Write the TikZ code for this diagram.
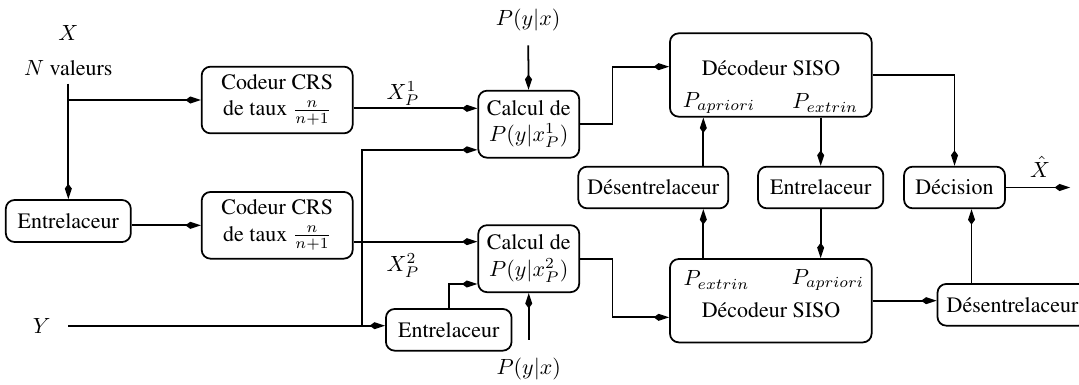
\documentclass[tikz,border=0pt]{standalone}
\usepackage[T1]{fontenc}
\usepackage{times}
\usepackage{amsmath}
\usetikzlibrary{arrows.meta, positioning}

\begin{document}
\begin{tikzpicture}[
    block/.style={rectangle, rounded corners=4pt, draw=black, thick, align=center, inner sep=0pt},
    arrow/.style={thick,-{Kite[length=7pt,width=3.2pt,inset=2.2pt]}}
]
\useasboundingbox (0,0) rectangle (17.264,-6.144);

% entrees
\node (xlab) at (1.093,-0.53) {$X$};
\node (nval) at (1.093,-1.09) {$N$ valeurs};
\node (ylab) at (0.667,-5.211) {$Y$};
\coordinate (yin) at (1.09,-5.211);
\coordinate (jy) at (5.787,-5.211);

% codage
\node (entrel1) [block, minimum width=2cm, minimum height=0.672cm] at (1.093,-3.536) {Entrelaceur};
\node (codeur1) [block, minimum width=2.416cm, minimum height=1.067cm] at (4.435,-1.6) {Codeur CRS\\de taux $\frac{n}{n+1}$};
\node (codeur2) [block, minimum width=2.416cm, minimum height=1.067cm] at (4.435,-3.605) {Codeur CRS\\de taux $\frac{n}{n+1}$};
\node (entrel2) [block, minimum width=2.01cm, minimum height=0.667cm] at (7.18,-5.277) {Entrelaceur};

% canal
\node (ptop) at (8.45,-0.32) {$P(y|x)$};
\node (pbot) at (8.46,-5.91) {$P(y|x)$};
\node (calcul1) [block, minimum width=1.616cm, minimum height=1.072cm] at (8.46,-1.987) {Calcul de\\$P(y|x_P^1)$};
\node (calcul2) [block, minimum width=1.616cm, minimum height=1.072cm] at (8.46,-4.139) {Calcul de\\$P(y|x_P^2)$};

% decodage
\node (dec1) [block, minimum width=3.227cm, minimum height=1.334cm] at (12.333,-1.2) {};
\node at (12.336,-1.093) {D\'ecodeur SISO};
\node (papr1) at (11.504,-1.648) {$P_{apriori}$};
\node (pext1) at (13.205,-1.648) {$P_{extrin}$};
\node (dec2) [block, minimum width=3.227cm, minimum height=1.334cm] at (12.333,-4.811) {};
\node at (12.336,-4.96) {D\'ecodeur SISO};
\node (pext2) at (11.464,-4.48) {$P_{extrin}$};
\node (papr2) at (13.248,-4.48) {$P_{apriori}$};
\coordinate (xapr) at (11.253,0);

\node (desent1) [block, minimum width=2.4cm, minimum height=0.667cm] at (10.453,-3.0) {D\'esentrelaceur};
\node (entrel3) [block, minimum width=2.005cm, minimum height=0.667cm] at (13.131,-3.0) {Entrelaceur};
\node (decision) [block, minimum width=1.616cm, minimum height=0.667cm] at (15.272,-3.0) {D\'ecision};
\node (desent2) [block, minimum width=2.4cm, minimum height=0.667cm] at (16.2,-4.877) {D\'esentrelaceur};
\node (xhat) at (16.64,-2.67) {$\hat{X}$};
\coordinate (xout) at (17.12,-3.0);

% points d'entree
\coordinate (c1a) at ([yshift=0.254cm]calcul1.west);
\coordinate (c1b) at ([yshift=-0.41cm]calcul1.west);
\coordinate (c2a) at ([yshift=0.272cm]calcul2.west);
\coordinate (c2b) at ([yshift=-0.405cm]calcul2.west);
\coordinate (d1a) at ([yshift=0.133cm]dec1.west);
\coordinate (d2a) at ([yshift=-0.266cm]dec2.west);
\coordinate (d2n) at ([xshift=-0.656cm]desent2.north);

\draw [arrow] (nval) -- (entrel1);
\draw [arrow] (nval |- codeur1) -- (codeur1);
\draw [arrow] (codeur2.west -| entrel1.east) -- (codeur2.west);
\draw [arrow] (c1a -| codeur1.east) -- node[above, pos=0.4, inner sep=1pt] {$X_P^1$} (c1a);
\draw [arrow] (c2a -| codeur2.east) -- node[below=1.5pt, pos=0.4] {$X_P^2$} (c2a);
\draw [thick] (ylab.east -| yin) -- (jy);
\draw [arrow] (jy) -- (jy -| entrel2.west);
\draw [arrow] (jy) |- (c1b);
\draw [arrow] (entrel2.north) |- (c2b);
\draw [arrow, shorten <=3pt] (ptop) -- (calcul1);
\draw [arrow, shorten <=5pt] (pbot) -- (calcul2);
\draw [arrow] (calcul1.east) -- ++(0.518,0) |- (d1a);
\draw [arrow] (calcul2.east) -- ++(0.518,0) |- (d2a);
\draw [arrow] (desent1.north -| xapr) -- (dec1.south -| xapr);
\draw [arrow] (dec2.north -| xapr) -- (desent1.south -| xapr);
\draw [arrow] (dec1.south -| entrel3) -- (entrel3);
\draw [arrow] (entrel3) -- (dec2.north -| entrel3);
\draw [arrow] (dec1.east) -| (decision);
\draw [arrow] (decision) -- (decision -| xout);
\draw [arrow] (dec2.east) -- (dec2.east -| desent2.west);
\draw [arrow] (d2n) -- (d2n |- decision.south);

\end{tikzpicture}
\end{document}
